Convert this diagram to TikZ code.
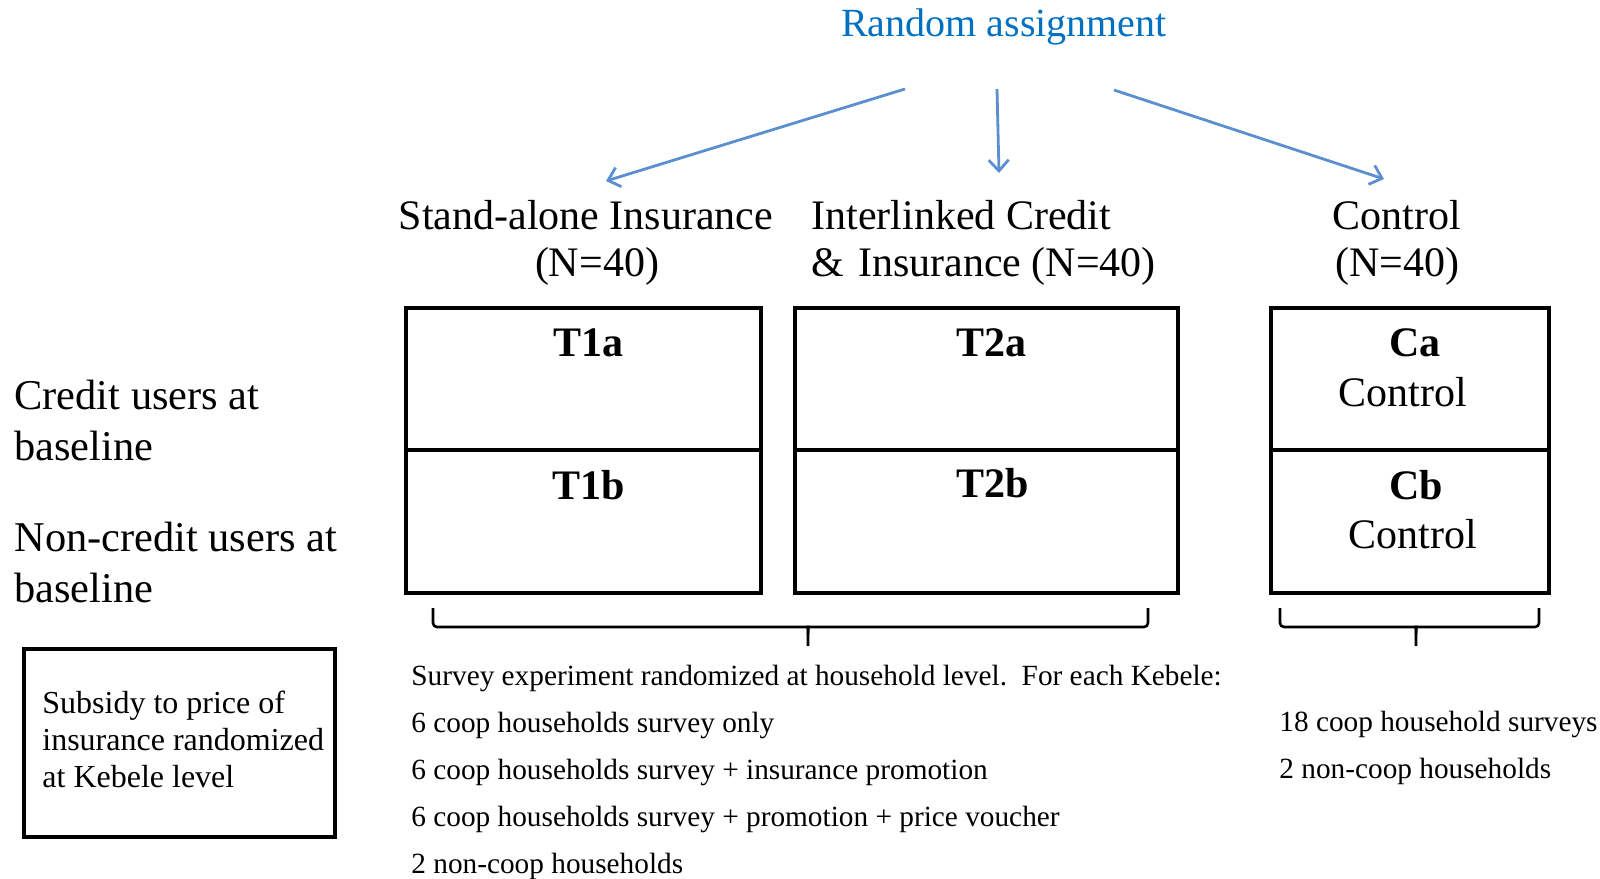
\documentclass[tikz,border=0pt]{standalone}
\usepackage{fontspec}
\setmainfont{Liberation Serif}
\usetikzlibrary{arrows.meta}
\definecolor{assignblue}{RGB}{0,112,192}
\definecolor{arrowblue}{RGB}{91,143,207}
\begin{document}
\begin{tikzpicture}[x=0.5pt, y=-0.5pt,
		head/.style={font=\fontsize{21}{23.5}\selectfont, inner sep=0pt},
		side/.style={font=\fontsize{21.2}{25.5}\selectfont, align=left, anchor=west, inner sep=0pt},
		tag/.style={font=\fontsize{21}{24}\selectfont\bfseries, inner sep=0pt},
		plain/.style={font=\fontsize{21}{24}\selectfont, inner sep=0pt},
		small/.style={font=\fontsize{14.65}{23.5}\selectfont, align=left, anchor=north west, inner sep=0pt},
		arm/.style={arrowblue, line width=1.4pt, -{Straight Barb[length=5.5pt, width=10pt]}},
		curly/.style={line width=1.3pt, rounded corners=2pt}]
	\useasboundingbox (0,0) rectangle (1600,878);
	% assignment and arms
	\node[font=\fontsize{20}{24}\selectfont, text=assignblue, inner sep=0pt] (assign) at (1004,27) {Random assignment};
	\coordinate (lfrom) at (905,89); \coordinate (mfrom) at (997,89); \coordinate (rfrom) at (1114,90);
	\coordinate (lto) at (606,181); \coordinate (mto) at (999,173); \coordinate (rto) at (1384,179);
	\draw[arm] (lfrom) -- (lto);
	\draw[arm] (mfrom) -- (mto);
	\draw[arm] (rfrom) -- (rto);
	\node[head, align=center] (standalone) at (586,243) {Stand-alone Insurance\\\hspace*{11pt}(N=40)};
	\node[head, align=left, anchor=west] (interlinked) at (811,243) {Interlinked Credit\\\&\hspace{7pt}Insurance (N=40)};
	\node[head, align=center] (control) at (1397,243) {Control\\(N=40)};
	% treatment cells
	\draw[line width=2pt] (406,308) rectangle (761,593); \draw[line width=2pt] (406,450) -- (761,450);
	\draw[line width=2pt] (795,308) rectangle (1178,593); \draw[line width=2pt] (795,450) -- (1178,450);
	\draw[line width=2pt] (1271,308) rectangle (1549,593); \draw[line width=2pt] (1271,450) -- (1549,450);
	\node[tag] (t1a) at (588,343) {T1a};
	\node[tag] (t1b) at (589,485) {T1b};
	\node[tag] (t2a) at (991,343) {T2a};
	\node[tag] (t2b) at (993,483) {T2b};
	\node[tag] (ca) at (1415,343) {Ca};
	\node[plain] (cactrl) at (1403,392) {Control};
	\node[tag] (cb) at (1416,485) {Cb};
	\node[plain] (cbctrl) at (1413,534) {Control};
	\node[side] (credit) at (14,420) {Credit users at\\baseline};
	\node[side] (noncredit) at (14,562) {Non-credit users at\\baseline};
	\draw[line width=2pt] (24,649) rectangle (335,837);
	\node[font=\fontsize{16}{18.5}\selectfont, align=left, anchor=north west, inner sep=0pt] (subsidy) at (42,691) {Subsidy to price of\\insurance randomized\\at Kebele level};
	% braces and survey text
	\draw[curly] (433,608) |- (804,627) .. controls (807,627) and (808,629) .. (808,634) -- (808,646);
	\draw[curly] (808,634) .. controls (808,629) and (809,627) .. (812,627) -| (1148,608);
	\draw[curly] (1280,608) |- (1412,627) .. controls (1415,627) and (1416,629) .. (1416,634) -- (1416,646);
	\draw[curly] (1416,634) .. controls (1416,629) and (1417,627) .. (1420,627) -| (1539,608);
	\node[small] (survey) at (411,665) {Survey experiment randomized at household level.\ \ For each Kebele:\\6 coop households survey only\\6 coop households survey + insurance promotion\\6 coop households survey + promotion + price voucher\\2 non-coop households};
	\node[small] (coop) at (1279,711) {18 coop household surveys\\2 non-coop households};
\end{tikzpicture}
\end{document}
